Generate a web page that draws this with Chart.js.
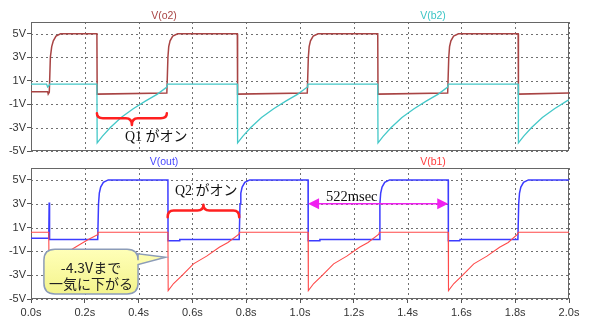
<!DOCTYPE html>
<html>
<head>
<meta charset="utf-8">
<script src="https://cdn.jsdelivr.net/npm/chart.js@4.4.1/dist/chart.umd.min.js"></script>
<style>
  html,body{margin:0;padding:0;background:#fff;}
  #wrap{position:relative;width:600px;height:332px;overflow:hidden;background:#fff;}
  canvas{position:absolute;left:0;}
  .lbl{position:absolute;white-space:nowrap;transform:translate(-50%,-50%);line-height:1;}
  .leg{font:10.5px "Liberation Sans",Arial,sans-serif;}
  .note{font-size:14px;color:#111;font-family:"Liberation Serif","Noto Sans CJK JP",serif;transform:translate(0,-50%);}
  .call{font:14px "Noto Sans CJK JP","Noto Sans",sans-serif;color:#222;}
</style>
</head>
<body>
<div id="wrap">
  <canvas id="topChart" width="600" height="160" style="top:0"></canvas>
  <canvas id="botChart" width="600" height="172" style="top:160px"></canvas>

  <div class="lbl leg" style="left:164px;top:15px;color:#a84444">V(o2)</div>
  <div class="lbl leg" style="left:433px;top:15px;color:#3cc4c4">V(b2)</div>
  <div class="lbl leg" style="left:164px;top:161px;color:#4848ff">V(out)</div>
  <div class="lbl leg" style="left:433px;top:161px;color:#ff3c3c">V(b1)</div>

  <div class="lbl note" style="left:125px;top:137px">Q1 がオン</div>
  <div class="lbl note" style="left:175px;top:191px">Q2 がオン</div>
  <div class="lbl note" style="left:326px;top:196px;font-size:14.5px">522msec</div>

  <div class="lbl call" style="left:91px;top:267px">-4.3Vまで</div>
  <div class="lbl call" style="left:91px;top:283px">一気に下がる</div>
</div>
<script>
// axis ticks
const xTicks = [0, 0.2, 0.4, 0.6, 0.8, 1.0, 1.2, 1.4, 1.6, 1.8, 2.0];
const yTicks = [-5, -3, -1, 1, 3, 5];

// V(o2) - top panel
const o2Time = [0, 0.062, 0.064, 0.068, 0.072, 0.077, 0.083, 0.093, 0.110,
  0.245, 0.246, 0.505, 0.509, 0.512, 0.517, 0.527, 0.545,
  0.767, 0.768, 1.027, 1.031, 1.034, 1.039, 1.049, 1.067,
  1.289, 1.290, 1.549, 1.553, 1.556, 1.561, 1.571, 1.589,
  1.811, 1.812, 2.0];
const o2Volt = [0.05, 0.05, -0.15, 0.0, 3.0, 3.9, 4.4, 4.8, 5.0,
  5.0, -0.15, -0.05, 3.0, 3.9, 4.4, 4.8, 5.0,
  5.0, -0.15, -0.05, 3.0, 3.9, 4.4, 4.8, 5.0,
  5.0, -0.15, -0.05, 3.0, 3.9, 4.4, 4.8, 5.0,
  5.0, -0.15, -0.05];

// V(b2) - top panel
const b2Time = [0, 0.058, 0.062, 0.066, 0.070,
  0.245, 0.246, 0.265, 0.295, 0.335, 0.380, 0.425, 0.470, 0.505, 0.507,
  0.767, 0.768, 0.787, 0.817, 0.857, 0.902, 0.947, 0.992, 1.027, 1.029,
  1.289, 1.290, 1.309, 1.339, 1.379, 1.424, 1.469, 1.514, 1.549, 1.551,
  1.811, 1.812, 1.831, 1.861, 1.901, 1.946, 1.991, 2.0];
const b2Volt = [0.7, 0.7, 0.45, 0.55, 0.7,
  0.7, -4.3, -3.75, -3.0, -2.15, -1.4, -0.75, -0.15, 0.45, 0.7,
  0.7, -4.3, -3.75, -3.0, -2.15, -1.4, -0.75, -0.15, 0.45, 0.7,
  0.7, -4.3, -3.75, -3.0, -2.15, -1.4, -0.75, -0.15, 0.45, 0.7,
  0.7, -4.3, -3.75, -3.0, -2.15, -1.4, -0.75, -0.63];

// V(out) - bottom panel
const outTime = [0, 0.066, 0.0675, 0.069,
  0.248, 0.251, 0.254, 0.259, 0.269, 0.287, 0.509, 0.5095, 0.552, 0.553,
  0.774, 0.777, 0.780, 0.785, 0.795, 0.813, 1.030, 1.0305, 1.073, 1.074,
  1.294, 1.297, 1.300, 1.305, 1.315, 1.333, 1.551, 1.5515, 1.594, 1.595,
  1.810, 1.813, 1.816, 1.821, 1.831, 1.849, 2.0];
const outVolt = [0.1, 0.1, 3.1, 0.0,
  0.0, 3.0, 3.9, 4.4, 4.8, 5.0, 5.0, -0.1, -0.1, 0.0,
  0.0, 3.0, 3.9, 4.4, 4.8, 5.0, 5.0, -0.1, -0.1, 0.0,
  0.0, 3.0, 3.9, 4.4, 4.8, 5.0, 5.0, -0.1, -0.1, 0.0,
  0.0, 3.0, 3.9, 4.4, 4.8, 5.0, 5.0];

// V(b1) - bottom panel
const b1Time = [0, 0.066, 0.067, 0.090, 0.120, 0.145, 0.180, 0.213, 0.247, 0.249,
  0.509, 0.510, 0.530, 0.560, 0.604, 0.653, 0.700, 0.732, 0.773, 0.775,
  1.030, 1.031, 1.051, 1.081, 1.125, 1.174, 1.221, 1.253, 1.293, 1.295,
  1.551, 1.552, 1.572, 1.602, 1.646, 1.695, 1.742, 1.774, 1.809, 1.811, 2.0];
const b1Volt = [0.6, 0.6, -2.4, -1.9, -1.35, -0.92, -0.45, 0.0, 0.4, 0.6,
  0.6, -4.3, -3.7, -3.05, -2.05, -1.4, -0.65, -0.25, 0.45, 0.6,
  0.6, -4.3, -3.7, -3.05, -2.05, -1.4, -0.65, -0.25, 0.45, 0.6,
  0.6, -4.3, -3.7, -3.05, -2.05, -1.4, -0.65, -0.25, 0.45, 0.6, 0.6];

// annotation anchors (data units)
const q1Brace = {x0: 0.245, x1: 0.505, yEnd: -1.78, yMid: -2.2, yTip: -2.78};
const q2Brace = {x0: 0.508, x1: 0.774, yEnd: 1.87, yMid: 2.43, yTip: 2.91};
const periodArrow = {x0: 1.030, x1: 1.551, y: 3};
const callout = {x0: 0.048, x1: 0.398, yTop: -0.82, yBot: -4.58, tipX: 0.50, tipY: -1.49, baseTop: -1.2, baseBot: -2.1};

Chart.defaults.font.family = '"Liberation Sans", Arial, sans-serif';
Chart.defaults.font.size = 11;
Chart.defaults.color = '#333';

function pts(ts, vs){ return ts.map((t, i) => ({x: t, y: vs[i]})); }

function series(label, ts, vs, color, width, order){
  return { label, data: pts(ts, vs), borderColor: color, borderWidth: width, pointRadius: 0, tension: 0, fill: false, order };
}

function scales(showX){
  return {
    x: {
      type: 'linear', min: 0, max: 2,
      afterBuildTicks: s => { s.ticks = xTicks.map(v => ({value: v})); },
      afterFit: s => { s.height = showX ? 33 : 0; },
      ticks: { display: showX, padding: 3, color: '#333', callback: v => v.toFixed(1) + 's' },
      grid: { drawOnChartArea: false, drawTicks: showX, tickLength: 4, tickColor: '#555', tickWidth: 1, tickBorderDash: [] },
      border: { display: false }
    },
    y: {
      min: -5, max: 6,
      afterBuildTicks: s => { s.ticks = yTicks.map(v => ({value: v})); },
      afterFit: s => { s.width = 31; },
      ticks: { padding: 1, color: '#333', callback: v => v + 'V' },
      grid: { drawOnChartArea: false, tickLength: 4, tickColor: '#555', tickWidth: 1, tickBorderDash: [] },
      border: { display: false }
    }
  };
}

// dotted grid in the frame colour + panel frame
const framePlugin = {
  id: 'frame',
  beforeDatasetsDraw(chart){
    const {ctx, chartArea: a} = chart;
    const sx = chart.scales.x, sy = chart.scales.y;
    ctx.save();
    ctx.strokeStyle = '#707070'; ctx.lineWidth = 1; ctx.setLineDash([2, 3]);
    ctx.beginPath();
    xTicks.forEach(v => { const px = Math.round(sx.getPixelForValue(v)) + 0.5; ctx.moveTo(px, a.top); ctx.lineTo(px, a.bottom); });
    yTicks.forEach(v => { const py = Math.round(sy.getPixelForValue(v)) + 0.5; ctx.moveTo(a.left, py); ctx.lineTo(a.right, py); });
    ctx.stroke();
    ctx.setLineDash([]);
    ctx.strokeStyle = '#666';
    ctx.strokeRect(Math.round(a.left) + 0.5, Math.round(a.top) + 0.5, Math.round(a.right - a.left) - 1, Math.round(a.bottom - a.top) - 1);
    ctx.restore();
  }
};

function drawBrace(chart, b){
  const {ctx, scales: {x, y}} = chart;
  const x0 = x.getPixelForValue(b.x0), x1 = x.getPixelForValue(b.x1), xc = (x0 + x1) / 2;
  const ye = y.getPixelForValue(b.yEnd), ym = y.getPixelForValue(b.yMid), yt = y.getPixelForValue(b.yTip);
  const r = 6;
  ctx.save();
  ctx.strokeStyle = '#ff2020'; ctx.lineWidth = 2.5; ctx.lineCap = 'round'; ctx.lineJoin = 'round';
  ctx.beginPath();
  ctx.moveTo(x0, ye);
  ctx.quadraticCurveTo(x0, ym, x0 + r, ym);
  ctx.lineTo(xc - r, ym);
  ctx.quadraticCurveTo(xc, ym, xc, yt);
  ctx.quadraticCurveTo(xc, ym, xc + r, ym);
  ctx.lineTo(x1 - r, ym);
  ctx.quadraticCurveTo(x1, ym, x1, ye);
  ctx.stroke();
  ctx.restore();
}

function drawArrow(chart, a){
  const {ctx, scales: {x, y}} = chart;
  const xa = x.getPixelForValue(a.x0), xb = x.getPixelForValue(a.x1), yy = y.getPixelForValue(a.y);
  ctx.save();
  ctx.strokeStyle = '#f020f0'; ctx.fillStyle = '#f020f0'; ctx.lineWidth = 1.5;
  ctx.beginPath(); ctx.moveTo(xa + 8, yy); ctx.lineTo(xb - 8, yy); ctx.stroke();
  ctx.beginPath(); ctx.moveTo(xa, yy); ctx.lineTo(xa + 11, yy - 5.5); ctx.lineTo(xa + 11, yy + 5.5); ctx.closePath(); ctx.fill();
  ctx.beginPath(); ctx.moveTo(xb, yy); ctx.lineTo(xb - 11, yy - 5.5); ctx.lineTo(xb - 11, yy + 5.5); ctx.closePath(); ctx.fill();
  ctx.restore();
}

function drawCallout(chart, c){
  const {ctx, scales: {x, y}} = chart;
  const l = x.getPixelForValue(c.x0), rt = x.getPixelForValue(c.x1);
  const t = y.getPixelForValue(c.yTop), b = y.getPixelForValue(c.yBot);
  const tx = x.getPixelForValue(c.tipX), ty = y.getPixelForValue(c.tipY);
  const b1 = y.getPixelForValue(c.baseTop), b2 = y.getPixelForValue(c.baseBot);
  const r = 11;
  ctx.save();
  ctx.beginPath();
  ctx.moveTo(l + r, t);
  ctx.lineTo(rt - r, t);
  ctx.quadraticCurveTo(rt, t, rt, t + r);
  ctx.lineTo(rt, b1);
  ctx.lineTo(tx, ty);
  ctx.lineTo(rt, b2);
  ctx.lineTo(rt, b - r);
  ctx.quadraticCurveTo(rt, b, rt - r, b);
  ctx.lineTo(l + r, b);
  ctx.quadraticCurveTo(l, b, l, b - r);
  ctx.lineTo(l, t + r);
  ctx.quadraticCurveTo(l, t, l + r, t);
  ctx.closePath();
  const g = ctx.createLinearGradient(0, t, 0, b);
  g.addColorStop(0, '#ffffb8'); g.addColorStop(1, '#f4f48c');
  ctx.fillStyle = g; ctx.fill();
  ctx.strokeStyle = '#8c9cb8'; ctx.lineWidth = 1.5; ctx.stroke();
  ctx.restore();
}

const topNotes = { id: 'topNotes', afterDatasetsDraw(chart){ drawBrace(chart, q1Brace); } };
const botNotes = { id: 'botNotes', afterDatasetsDraw(chart){ drawBrace(chart, q2Brace); drawArrow(chart, periodArrow); drawCallout(chart, callout); } };

function makeChart(id, datasets, showX, pad, notes){
  return new Chart(document.getElementById(id), {
    type: 'line',
    data: { datasets },
    options: {
      responsive: false, animation: false, devicePixelRatio: 1,
      layout: { padding: pad },
      plugins: { legend: { display: false }, tooltip: { enabled: false } },
      scales: scales(showX)
    },
    plugins: [framePlugin, notes]
  });
}

makeChart('topChart', [
  series('V(b2)', b2Time, b2Volt, '#44c8c8', 1.3, 0),
  series('V(o2)', o2Time, o2Volt, '#a84444', 1.5, 1)
], false, {top: 22, right: 31, bottom: 9, left: 0}, topNotes);

makeChart('botChart', [
  series('V(b1)', b1Time, b1Volt, '#ff4a4a', 1.1, 0),
  series('V(out)', outTime, outVolt, '#3c3cff', 1.5, 1)
], true, {top: 8, right: 31, bottom: 0, left: 0}, botNotes);
</script>
</body>
</html>
